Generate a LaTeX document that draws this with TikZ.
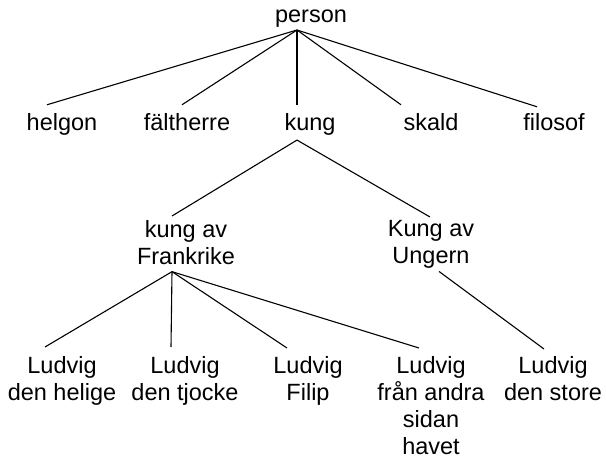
\documentclass[tikz,border=0pt]{standalone}
\usepackage{fontspec}
\setmainfont{Liberation Sans}
\begin{document}
\begin{tikzpicture}[x=1pt,y=-1pt,
  lbl/.style={inner sep=0pt,align=center,font=\fontsize{23.5}{27}\selectfont},
  edge/.style={line width=1.1pt,black}]
\useasboundingbox (0,0) rectangle (606,463);
% nodes
\node[lbl,anchor=base] (person) at (311,23) {person};
\node[lbl,anchor=base] (helgon) at (62,130) {helgon};
\node[lbl,anchor=base] (falt) at (187,130) {fältherre};
\node[lbl,anchor=base] (kung) at (310,130) {kung};
\node[lbl,anchor=base] (skald) at (431,130) {skald};
\node[lbl,anchor=base] (filosof) at (554,130) {filosof};
\node[lbl,anchor=north] (frank) at (186,220) {kung av\\Frankrike};
\node[lbl,anchor=north] (ungern) at (431,220) {Kung av\\Ungern};
\node[lbl,anchor=north] (helige) at (62,356) {Ludvig\\den helige};
\node[lbl,anchor=north] (tjocke) at (185,356) {Ludvig\\den tjocke};
\node[lbl,anchor=north] (filip) at (308,356) {Ludvig\\Filip};
\node[lbl,anchor=north] (andra) at (431,356) {Ludvig\\från andra\\sidan\\havet};
\node[lbl,anchor=north] (store) at (553,356) {Ludvig\\den store};
% connector junctions
\coordinate (pA) at ([xshift=-14pt,yshift=-7pt]person.base);
\coordinate (kA) at ([xshift=-13pt,yshift=-5pt]kung.south);
\coordinate (fA) at ([xshift=-14pt,yshift=-7pt]frank.south);
\coordinate (uA) at ([xshift=8pt,yshift=-3pt]ungern.south);
% edges
\draw[edge] (pA) -- ([xshift=-15pt,yshift=8pt]helgon.north);
\draw[edge] (pA) -- ([xshift=-5pt,yshift=8pt]falt.north);
\draw[edge] (pA) -- ([xshift=-13pt,yshift=8pt]kung.north);
\draw[edge] (pA) -- ([xshift=-30pt,yshift=8pt]skald.north);
\draw[edge] (pA) -- ([xshift=-17pt,yshift=6pt]filosof.north);
\draw[edge] (kA) -- ([xshift=-14pt,yshift=4pt]frank.north);
\draw[edge] (kA) -- ([xshift=-1pt,yshift=3pt]ungern.north);
\draw[edge] (fA) -- ([xshift=-17pt,yshift=9pt]helige.north);
\draw[edge] (fA) -- ([xshift=-14pt,yshift=9pt]tjocke.north);
\draw[edge] (fA) -- ([xshift=-21pt,yshift=8pt]filip.north);
\draw[edge] (fA) -- ([xshift=-12pt,yshift=8pt]andra.north);
\draw[edge] (uA) -- ([xshift=-9pt,yshift=7pt]store.north);
\end{tikzpicture}
\end{document}
